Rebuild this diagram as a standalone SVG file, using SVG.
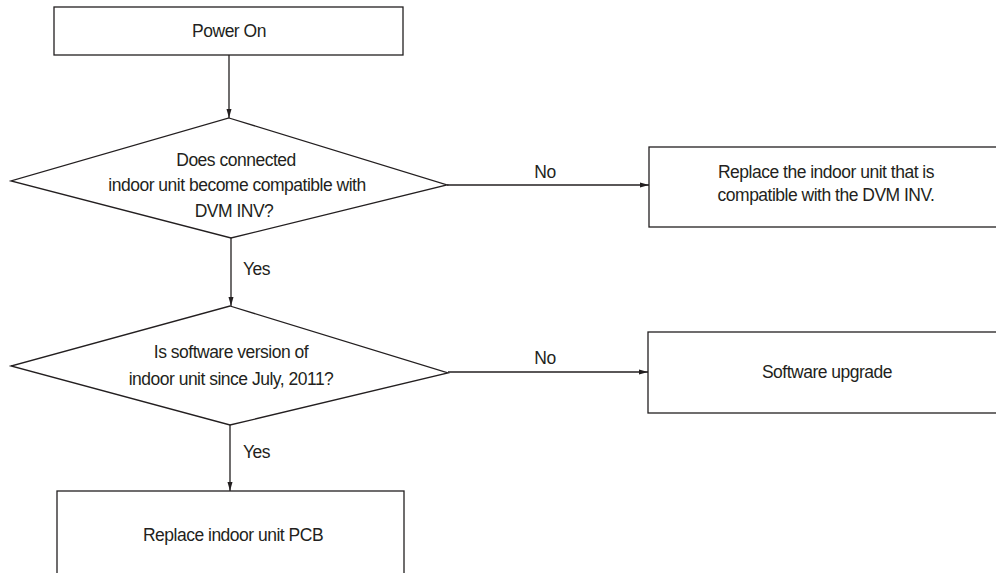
<svg xmlns="http://www.w3.org/2000/svg" width="996" height="573" viewBox="0 0 996 573">
<style>
.box{fill:#fff;stroke:#231f20;stroke-width:1.3}
.ln{fill:none;stroke:#231f20;stroke-width:1.3}
.t{font-family:"Liberation Sans",Arial,sans-serif;font-size:17.5px;fill:#231f20;text-anchor:middle;letter-spacing:-0.5px}
.lb{font-family:"Liberation Sans",Arial,sans-serif;font-size:17.5px;fill:#231f20;letter-spacing:-0.5px}
</style>
<defs>
<marker id="ah" markerWidth="10" markerHeight="8" refX="9" refY="4" orient="auto" markerUnits="userSpaceOnUse">
<path d="M0,1.5 L9,4 L0,6.5 Z" fill="#231f20"/>
</marker>
</defs>
<rect width="996" height="573" fill="#fff"/>
<g id="connectors">
<line class="ln" x1="229" y1="55" x2="229" y2="118" marker-end="url(#ah)"/>
<line class="ln" x1="231" y1="238" x2="231" y2="306" marker-end="url(#ah)"/>
<line class="ln" x1="230" y1="425" x2="230" y2="491" marker-end="url(#ah)"/>
<line class="ln" x1="447" y1="185" x2="649" y2="185" marker-end="url(#ah)"/>
<line class="ln" x1="448" y1="372" x2="648" y2="372" marker-end="url(#ah)"/>
<text class="lb" x="243" y="275">Yes</text>
<text class="lb" x="243" y="458">Yes</text>
<text class="t" x="545" y="178">No</text>
<text class="t" x="545" y="364">No</text>
</g>
<g id="power-on">
<rect class="box" x="54" y="7" width="349" height="48"/>
<text class="t" x="229" y="37">Power On</text>
</g>
<g id="decision-compatible">
<polygon class="box" points="229,118 447,185 231,238 11,181"/>
<text class="t" x="236" y="166">Does connected</text>
<text class="t" x="237" y="191">indoor unit become compatible with</text>
<text class="t" x="234" y="217">DVM INV?</text>
</g>
<g id="replace-indoor-unit">
<rect class="box" x="649" y="147" width="360" height="80"/>
<text class="t" x="826" y="178">Replace the indoor unit that is</text>
<text class="t" x="826" y="201">compatible with the DVM INV.</text>
</g>
<g id="decision-software">
<polygon class="box" points="230,306 448,373 230,425 11,366"/>
<text class="t" x="231" y="358">Is software version of</text>
<text class="t" x="231" y="385">indoor unit since July, 2011?</text>
</g>
<g id="software-upgrade">
<rect class="box" x="648" y="332" width="360" height="81"/>
<text class="t" x="827" y="378">Software upgrade</text>
</g>
<g id="replace-pcb">
<rect class="box" x="57" y="491" width="347" height="110"/>
<text class="t" x="233" y="541">Replace indoor unit PCB</text>
</g>
</svg>
